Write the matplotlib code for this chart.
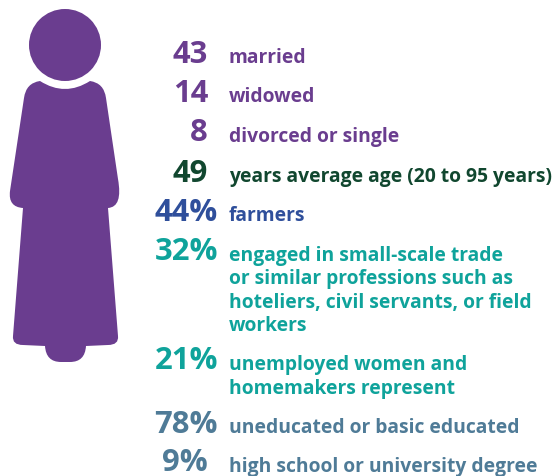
import matplotlib
matplotlib.use('Agg')
import matplotlib.pyplot as plt
import matplotlib.patches as patches
from matplotlib.path import Path

purple = '#6a3d8f'
green = '#11472f'
blue = '#2f4f9b'
teal = '#0fa39b'
slate = '#4f7b97'

# numbers and labels, top to bottom
numbers = ['43', '14', '8', '49', '44%', '32%', '21%', '78%', '9%']
labels = [
    'married',
    'widowed',
    'divorced or single',
    'years average age (20 to 95 years)',
    'farmers',
    'engaged in small-scale trade\nor similar professions such as\nhoteliers, civil servants, or field\nworkers',
    'unemployed women and\nhomemakers represent',
    'uneducated or basic educated',
    'high school or university degree',
]
colors = [purple, purple, purple, green, blue, teal, teal, slate, slate]
num_right = [208, 208, 208, 208, 218, 218, 218, 218, 208]
num_y = [55, 94, 133, 174, 213, 252, 361, 425, 463]
label_y = [58, 97, 137, 177, 216, 291, 377, 428, 467]

fig = plt.figure(figsize=(5.58, 4.77), dpi=100)
ax = fig.add_axes([0, 0, 1, 1])
ax.set_xlim(0, 558)
ax.set_ylim(477, 0)
ax.axis('off')

# figure of a woman
ax.add_patch(patches.Circle((65, 46), 36, color=purple, lw=0))
M, L, C = Path.MOVETO, Path.LINETO, Path.CURVE3
body = [
    ((40, 82), M),
    ((65, 98), C), ((90, 82), C),
    ((104, 84), C), ((106, 99), C),
    ((118, 180), L),
    ((123, 208), C), ((108, 209), C),
    ((118, 337), L),
    ((119, 346), C), ((108, 346), C),
    ((86, 347), L),
    ((85, 363), C), ((70, 363), C),
    ((61, 363), L),
    ((46, 363), C), ((45, 347), C),
    ((23, 346), L),
    ((12, 346), C), ((13, 337), C),
    ((23, 209), L),
    ((8, 208), C), ((10, 192), C),
    ((24, 99), L),
    ((26, 84), C), ((40, 82), C),
]
ax.add_patch(patches.PathPatch(Path([p[0] for p in body], [p[1] for p in body]),
                               facecolor=purple, edgecolor='none'))

for i in range(len(numbers)):
    ax.text(num_right[i], num_y[i], numbers[i], color=colors[i], fontsize=22.3,
            fontweight='bold', family='Open Sans', ha='right', va='center')
    ax.text(229, label_y[i], labels[i], color=colors[i], fontsize=13.9,
            fontweight='bold', family='Open Sans', ha='left', va='center',
            linespacing=1.23)

fig.savefig('out.png', dpi=100)
